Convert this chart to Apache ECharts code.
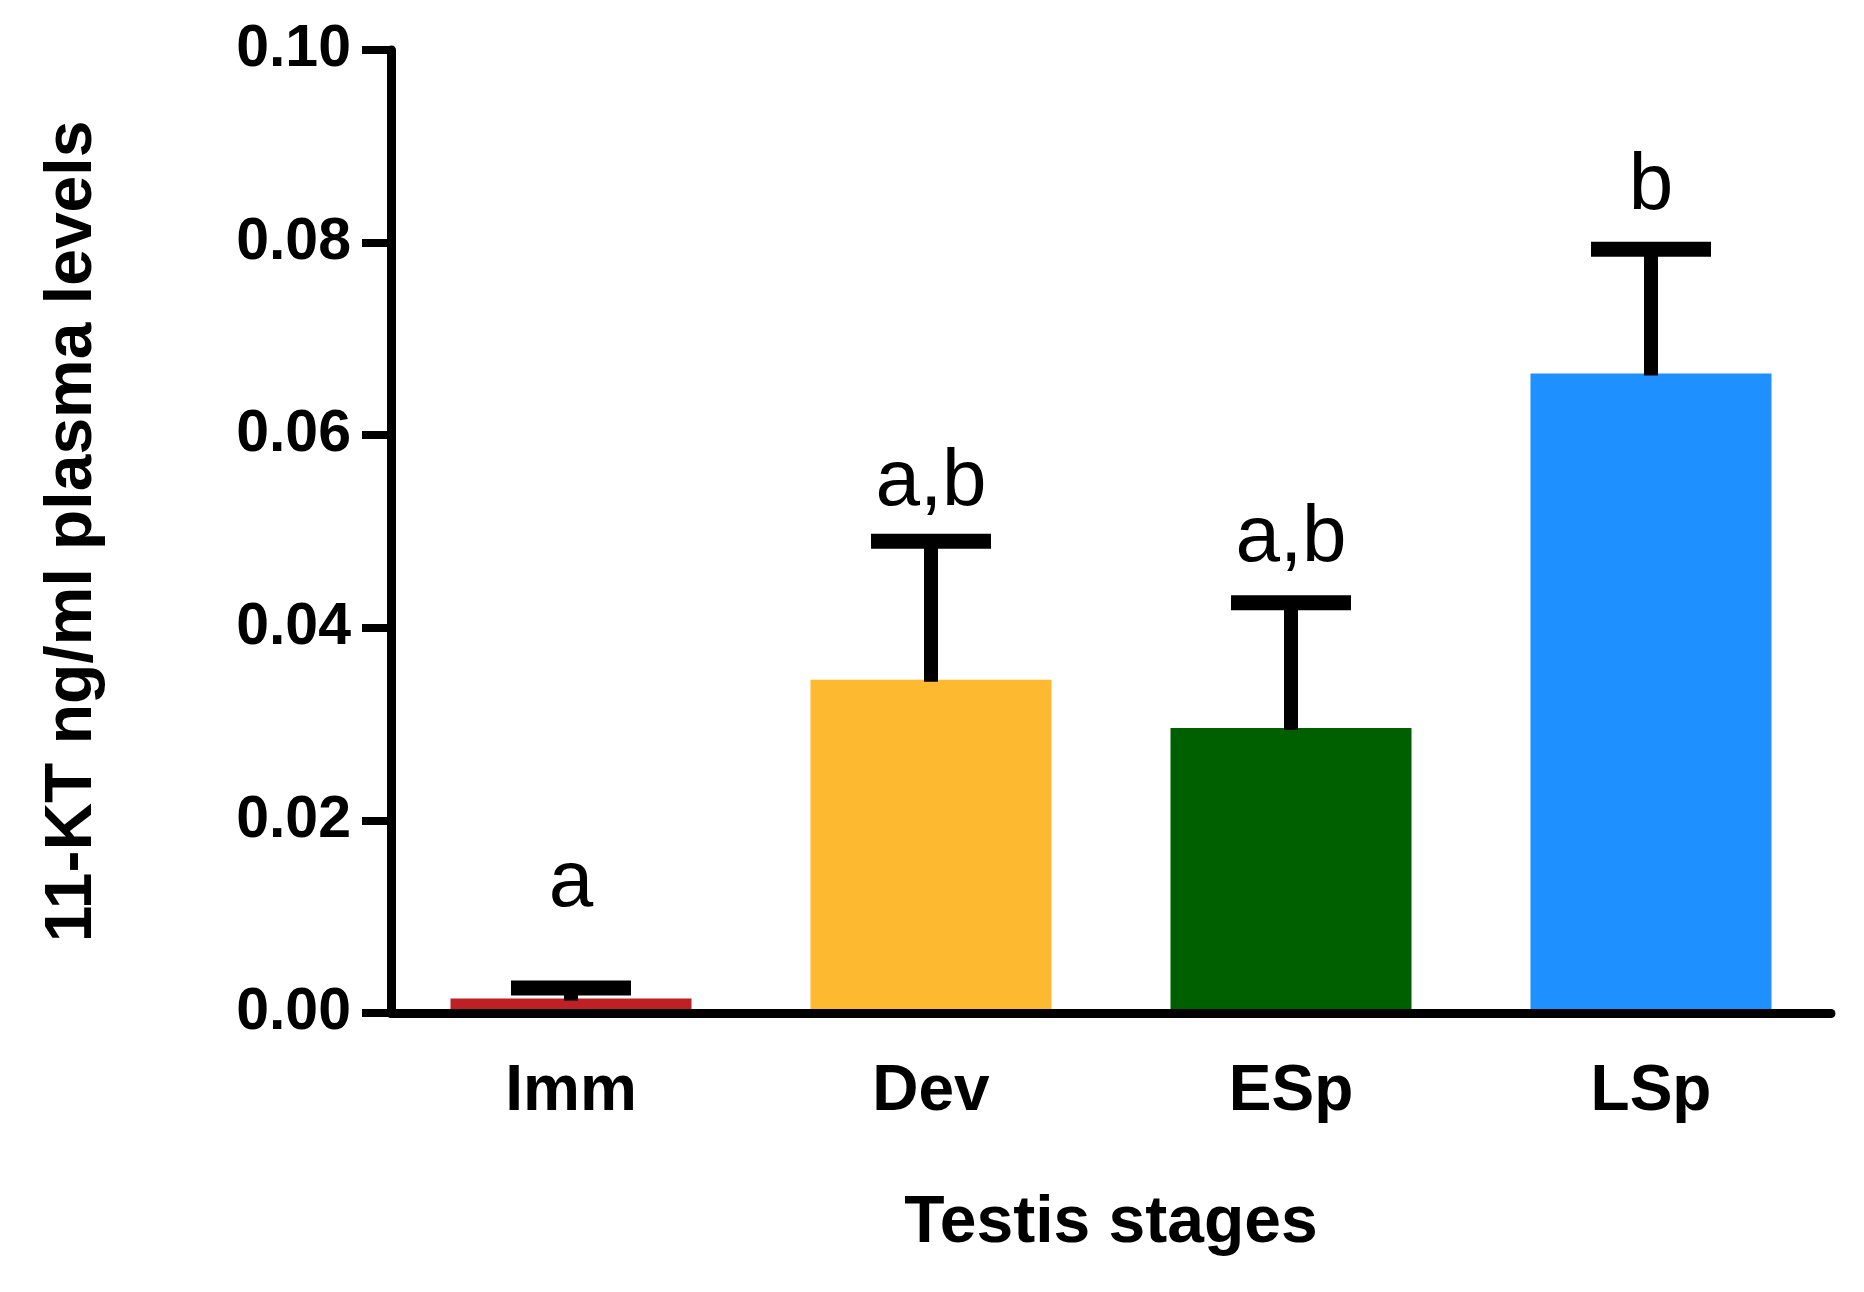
<!DOCTYPE html>
<html>
<head>
<meta charset="utf-8">
<script src="https://cdn.jsdelivr.net/npm/echarts@6/dist/echarts.min.js"></script>
<style>
html,body{margin:0;padding:0;background:#fff;}
#chart{width:1864px;height:1292px;}
</style>
</head>
<body>
<div id="chart"></div>
<script>
// ---- data ----
const categories = ['Imm', 'Dev', 'ESp', 'LSp'];
const means = [0.0015, 0.0346, 0.0296, 0.0664];
const errTops = [0.0026, 0.0490, 0.0426, 0.0793];
const sigLetters = ['a', 'a,b', 'a,b', 'b'];
const letterLevels = [0.0093, 0.0509, 0.0451, 0.0816];
const barColors = ['#BE2026', '#FDB92F', '#006000', '#1E90FF'];
const yTicks = [0, 0.02, 0.04, 0.06, 0.08, 0.10];

const FONT = '"Liberation Sans", Arial, Helvetica, sans-serif';
const chart = echarts.init(document.getElementById('chart'), null, {renderer: 'canvas'});

const errData = categories.map((c, i) => [i, means[i], errTops[i], letterLevels[i], sigLetters[i]]);

const option = {
  backgroundColor: '#ffffff',
  animation: false,
  grid: {left: 391, top: 50, right: 33, bottom: 279, containLabel: false},
  xAxis: {
    type: 'category',
    data: categories,
    z: 10,
    name: 'Testis stages',
    nameLocation: 'middle',
    nameGap: 178,
    nameTextStyle: {fontFamily: FONT, fontWeight: 'bold', fontSize: 66, color: '#000'},
    axisLine: {lineStyle: {color: '#000', width: 9}},
    axisTick: {alignWithLabel: true, length: 27, lineStyle: {color: '#000', width: 8}},
    axisLabel: {fontFamily: FONT, fontWeight: 'bold', fontSize: 64, color: '#000', margin: 47},
    splitLine: {show: false}
  },
  yAxis: {
    type: 'value',
    min: 0,
    max: 0.1,
    interval: 0.02,
    z: 10,
    name: '11-KT ng/ml plasma levels',
    nameLocation: 'middle',
    nameGap: 285,
    nameTextStyle: {fontFamily: FONT, fontWeight: 'bold', fontSize: 66, color: '#000'},
    axisLine: {show: true, lineStyle: {color: '#000', width: 9}},
    axisTick: {show: true, length: 29, lineStyle: {color: '#000', width: 8}},
    axisLabel: {
      fontFamily: FONT, fontWeight: 'bold', fontSize: 59, color: '#000', margin: 40,
      formatter: v => v.toFixed(2)
    },
    splitLine: {show: false}
  },
  series: [
    {
      type: 'bar',
      data: means.map((v, i) => ({value: v, itemStyle: {color: barColors[i]}})),
      barWidth: 241,
      z: 2
    },
    {
      type: 'custom',
      z: 5,
      data: errData,
      encode: {x: 0, y: [1, 2]},
      renderItem: function (params, api) {
        const i = api.value(0);
        const base = api.coord([i, api.value(1)]);
        const top = api.coord([i, api.value(2)]);
        const lab = api.coord([i, api.value(3)]);
        const stemW = 14, capW = 120, capH = 15;
        return {
          type: 'group',
          children: [
            {type: 'rect', shape: {x: base[0] - stemW / 2, y: top[1], width: stemW, height: base[1] - top[1] + 2}, style: {fill: '#000'}},
            {type: 'rect', shape: {x: base[0] - capW / 2, y: top[1] - capH / 2, width: capW, height: capH}, style: {fill: '#000'}},
            {type: 'text', x: base[0], y: lab[1], style: {text: sigLetters[i], fontFamily: FONT, fontSize: 80, fill: '#000', align: 'center', verticalAlign: 'bottom'}}
          ]
        };
      }
    }
  ]
};
chart.setOption(option);
</script>
</body>
</html>
